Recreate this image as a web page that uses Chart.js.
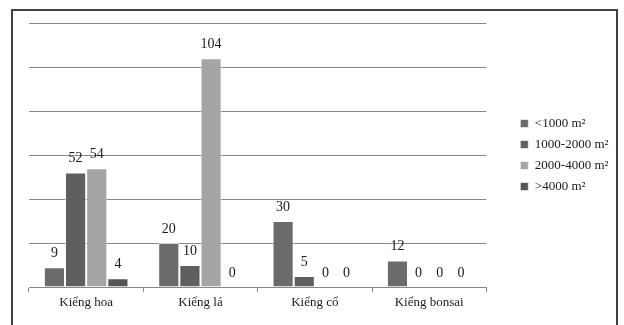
<!DOCTYPE html>
<html>
<head>
<meta charset="utf-8">
<script src="https://cdn.jsdelivr.net/npm/chart.js@4"></script>
<style>
  html, body { margin: 0; padding: 0; background: #fff; overflow: hidden; }
  #frame { position: absolute; left: 11px; top: 9px; width: 603px; height: 400px; border: 2px solid #404040; }
  #wrap { position: absolute; left: 0; top: 0; width: 624px; height: 325px; }
</style>
</head>
<body>
<div id="frame"></div>
<div id="wrap"><canvas id="chart" width="624" height="325"></canvas></div>
<script>
// Data
const categories = ['Kiểng hoa', 'Kiểng lá', 'Kiểng cổ', 'Kiểng bonsai'];
const seriesLabels = ['<1000 m²', '1000-2000 m²', '2000-4000 m²', '>4000 m²'];
const under1000 = [9, 20, 30, 12];
const from1000to2000 = [52, 10, 5, 0];
const from2000to4000 = [54, 104, 0, 0];
const over4000 = [4, 0, 0, 0];
const yMax = 120;
const yStep = 20;

const serif = '"Liberation Serif", "Times New Roman", serif';
const colors = ['#6b6b6b', '#5f5f5f', '#a5a5a5', '#555555'];
const values = [under1000, from1000to2000, from2000to4000, over4000];

// value labels above each bar
const valueLabels = {
    id: 'valueLabels',
    afterDatasetsDraw(chart) {
        const ctx = chart.ctx;
        ctx.save();
        ctx.font = '14px ' + serif;
        ctx.fillStyle = '#1a1a1a';
        ctx.textAlign = 'center';
        ctx.textBaseline = 'bottom';
        chart.data.datasets.forEach((ds, i) => {
            chart.getDatasetMeta(i).data.forEach((bar, j) => {
                ctx.fillText(String(ds.data[j]), bar.x, bar.y - 7);
            });
        });
        ctx.restore();
    }
};

new Chart(document.getElementById('chart'), {
    type: 'bar',
    data: {
        labels: categories,
        datasets: values.map((v, i) => ({
            label: seriesLabels[i],
            data: v,
            backgroundColor: colors[i],
            borderColor: 'rgba(255,255,255,0.6)',
            borderWidth: c => (c.raw === 0 ? 0 : 1),
            categoryPercentage: 0.74,
            barPercentage: 1.0
        }))
    },
    options: {
        responsive: false,
        animation: false,
        layout: { padding: { left: 29, top: 23, right: 15, bottom: 0 } },
        plugins: {
            tooltip: { enabled: false },
            legend: {
                position: 'right',
                fullSize: false,
                labels: {
                    boxWidth: 8,
                    boxHeight: 8,
                    padding: 8,
                    color: '#1a1a1a',
                    font: { family: serif, size: 13 }
                }
            }
        },
        scales: {
            x: {
                grid: { display: true, offset: true, drawOnChartArea: false, drawTicks: true, tickLength: 5, color: '#888' },
                border: { display: true, color: '#888' },
                ticks: { color: '#1a1a1a', padding: 3, font: { family: serif, size: 13 } },
                afterFit: s => { s.height = 38; }
            },
            y: {
                min: 0,
                max: yMax,
                ticks: { display: false, stepSize: yStep },
                grid: { color: '#888', drawTicks: false },
                border: { display: false },
                afterFit: s => { s.width = 0; }
            },
            gap: {
                type: 'linear',
                position: 'right',
                display: true,
                ticks: { display: false },
                grid: { display: false },
                border: { display: false },
                afterFit: s => { s.width = 26; }
            }
        }
    },
    plugins: [valueLabels]
});
</script>
</body>
</html>
